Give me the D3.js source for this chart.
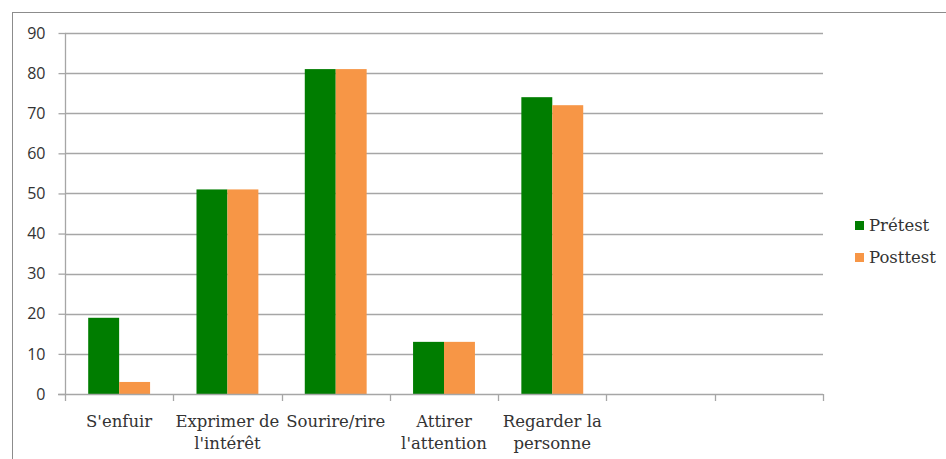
<!DOCTYPE html>
<html><head><meta charset="utf-8">
<script src="https://cdn.jsdelivr.net/npm/d3@7/dist/d3.min.js"></script>
<style>body{margin:0;background:#fff}svg{display:block}</style>
</head><body>
<svg id="c" width="946" height="459"></svg>
<script>
const categories = ["S'enfuir", "Exprimer de|l'intérêt", "Sourire/rire", "Attirer|l'attention", "Regarder la|personne", "", ""];
const pretest = [19, 51, 81, 13, 74, null, null];
const posttest = [3, 51, 81, 13, 72, null, null];
const seriesNames = ["Prétest", "Posttest"];
const colors = ["#007d00", "#f79646"];
const yTicks = [0, 10, 20, 30, 40, 50, 60, 70, 80, 90];

const svg = d3.select("#c");
// outer frame
svg.append("rect").attr("x", 12.5).attr("y", 12.5).attr("width", 960).attr("height", 480)
  .attr("fill", "none").attr("stroke", "#8c8c8c").attr("stroke-width", 1);

const L = 65, R = 823, T = 33, B = 394;
const x = d3.scaleBand().domain(d3.range(categories.length)).range([L, R]).paddingInner(0).paddingOuter(0);
const y = d3.scaleLinear().domain([0, 90]).range([B, T]);

// gridlines
svg.append("g").selectAll("line").data(yTicks.filter(d => d > 0)).join("line")
  .attr("x1", L).attr("x2", R).attr("y1", d => Math.round(y(d)) + 0.5).attr("y2", d => Math.round(y(d)) + 0.5)
  .attr("stroke", "#a6a6a6").attr("stroke-width", 1.3);

// bars
const inner = d3.scaleBand().domain([0, 1]).range([0, x.bandwidth()]).paddingOuter(0.75).paddingInner(0);
const data = [pretest, posttest];
data.forEach((arr, s) => {
  svg.append("g").selectAll("rect").data(arr.map((v, i) => ({v, i})).filter(d => d.v != null)).join("rect")
    .attr("x", d => x(d.i) + inner(s))
    .attr("width", inner.bandwidth())
    .attr("y", d => y(d.v))
    .attr("height", d => y(0) - y(d.v))
    .attr("fill", colors[s]);
});

// y axis
const yAxis = d3.axisLeft(y).tickValues(yTicks).tickSize(7).tickPadding(13);
const gy = svg.append("g").attr("transform", `translate(${L + 0.5},0)`).call(yAxis);
gy.select(".domain").attr("stroke", "#a6a6a6").attr("stroke-width", 1.3).attr("d", `M0,${T}V${B}`);
gy.selectAll(".tick line").attr("stroke", "#a6a6a6").attr("stroke-width", 1.3);
gy.selectAll(".tick text").attr("font-family", "'Open Sans', 'Liberation Sans', sans-serif").attr("font-size", 16).attr("fill", "#333");

// x axis
const xTickPos = d3.range(categories.length + 1).map(i => i < categories.length ? x(i) : R);
const gx = svg.append("g");
gx.append("line").attr("x1", L - 7).attr("x2", R).attr("y1", B + 0.5).attr("y2", B + 0.5)
  .attr("stroke", "#a6a6a6").attr("stroke-width", 1.3);
gx.selectAll("line.t").data(xTickPos).join("line").attr("class", "t")
  .attr("x1", d => Math.round(d) + 0.5).attr("x2", d => Math.round(d) + 0.5).attr("y1", B).attr("y2", B + 7)
  .attr("stroke", "#a6a6a6").attr("stroke-width", 1.3);
const lbl = gx.selectAll("text").data(categories).join("text")
  .attr("x", (d, i) => x(i) + x.bandwidth() / 2).attr("y", 427)
  .attr("text-anchor", "middle").attr("font-family", "'DejaVu Serif', serif").attr("font-size", 16.5).attr("fill", "#333");
lbl.each(function(d) {
  const parts = d.split("|");
  d3.select(this).selectAll("tspan").data(parts).join("tspan")
    .attr("x", d3.select(this).attr("x")).attr("dy", (p, j) => j === 0 ? 0 : 22).text(p => p);
});

// legend
const lg = svg.append("g");
seriesNames.forEach((n, i) => {
  const yy = 221 + i * 32;
  lg.append("rect").attr("x", 855).attr("y", yy).attr("width", 9).attr("height", 9).attr("fill", colors[i]);
  lg.append("text").attr("x", 869).attr("y", yy + 10).attr("font-family", "'DejaVu Serif', serif")
    .attr("font-size", 16.5).attr("fill", "#333").text(n);
});
</script>
</body></html>
